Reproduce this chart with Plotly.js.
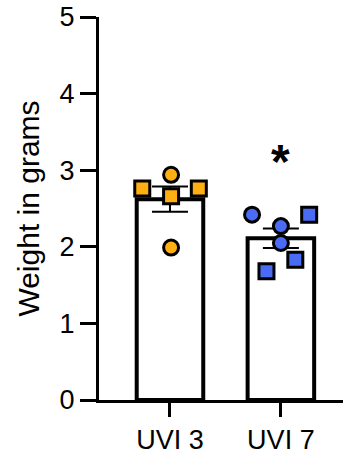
<!DOCTYPE html>
<html>
<head>
<meta charset="utf-8">
<script src="https://cdn.plot.ly/plotly-3.0.1.min.js"></script>
<style>html,body{margin:0;padding:0;background:#fff}#chart{width:343px;height:455px}</style>
</head>
<body>
<div id="chart"></div>
<script>
// Data
const categories = ["UVI 3", "UVI 7"];
const uvi3Values = [2.94, 2.76, 2.66, 2.76, 1.99];
const uvi3Symbols = ["circle", "square", "square", "square", "circle"];
const uvi3Jitter = [0.01, -0.25, 0.01, 0.26, 0.01];
const uvi7Values = [2.42, 2.42, 2.27, 2.05, 1.83, 1.68];
const uvi7Symbols = ["circle", "square", "circle", "circle", "square", "square"];
const uvi7Jitter = [-0.26, 0.255, 0, 0, 0.13, -0.13];
const significance = ["", "*"];
const yTicks = [0, 1, 2, 3, 4, 5];

const mean = a => a.reduce((s, v) => s + v, 0) / a.length;
const sem = a => { const m = mean(a); return Math.sqrt(a.reduce((s, v) => s + (v - m) ** 2, 0) / (a.length - 1)) / Math.sqrt(a.length); };

const groups = [uvi3Values, uvi7Values];
const xIdx = categories.map((c, i) => i);

const traces = [{
  type: "bar",
  x: xIdx,
  y: groups.map(mean),
  width: 0.6,
  marker: {color: "#ffffff", line: {color: "#000000", width: 4}},
  error_y: {type: "data", array: groups.map(sem), visible: true, color: "#000000", thickness: 2, width: 18},
  hoverinfo: "skip"
}, {
  type: "scatter", mode: "markers",
  x: uvi3Jitter.map(j => 0 + j),
  y: uvi3Values,
  marker: {symbol: uvi3Symbols, size: 15, color: "#FFAF12", line: {color: "#000000", width: 3}}
}, {
  type: "scatter", mode: "markers",
  x: uvi7Jitter.map(j => 1 + j),
  y: uvi7Values,
  marker: {symbol: uvi7Symbols, size: 15, color: "#4A6CF5", line: {color: "#000000", width: 3}}
}];

const annotations = significance.map((s, i) => ({
  x: i, y: Math.max(...groups[i]) + 0.7, xref: "x", yref: "y",
  text: s ? "<b>" + s + "</b>" : "", showarrow: false,
  font: {family: "Liberation Sans, Arial", size: 48, color: "#000"},
  yanchor: "middle"
})).filter(a => a.text);

const layout = {
  width: 343, height: 455,
  margin: {l: 99, r: 0, t: 17, b: 55},
  paper_bgcolor: "#fff", plot_bgcolor: "#fff",
  showlegend: false,
  font: {family: "Liberation Sans, Arial", color: "#000"},
  xaxis: {
    range: [-0.64, 1.56], tickvals: xIdx, ticktext: categories,
    showgrid: false, zeroline: false, showline: true, linecolor: "#000", linewidth: 3,
    ticks: "outside", ticklen: 14, tickwidth: 3, tickcolor: "#000",
    tickfont: {size: 27, family: "Liberation Sans, Arial"}, fixedrange: true
  },
  yaxis: {
    range: [0, 5], tickvals: yTicks,
    showgrid: false, zeroline: false, showline: true, linecolor: "#000", linewidth: 3,
    ticks: "outside", ticklen: 16, tickwidth: 3, tickcolor: "#000",
    tickfont: {size: 27, family: "Liberation Sans, Arial"},
    title: {text: "Weight in grams", font: {size: 30, family: "Liberation Sans, Arial"}, standoff: 12},
    fixedrange: true
  },
  annotations: annotations
};

Plotly.newPlot("chart", traces, layout, {displayModeBar: false, staticPlot: true});
</script>
</body>
</html>
